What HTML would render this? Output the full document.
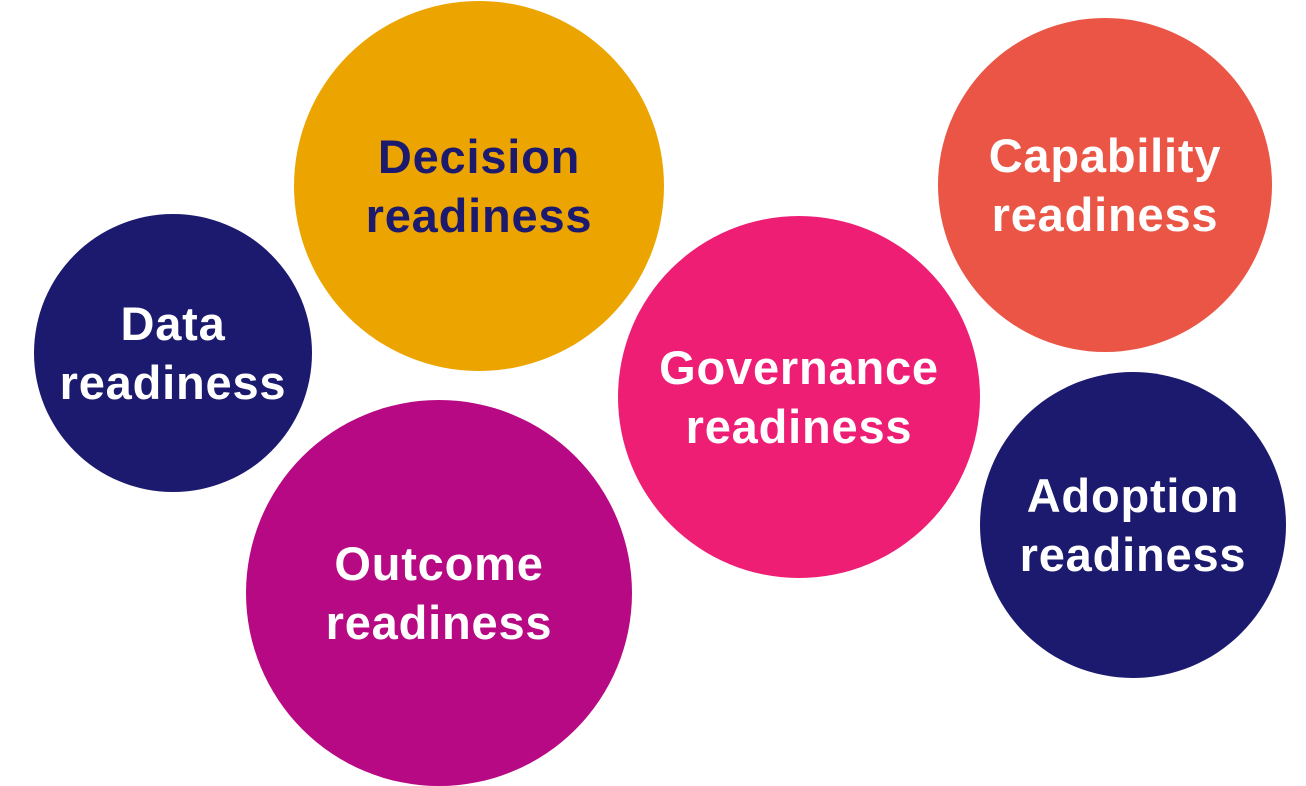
<!DOCTYPE html>
<html><head><meta charset="utf-8"><style>
html,body{margin:0;padding:0;background:#fff;}
svg{display:block;}
text{font-family:"Liberation Sans",sans-serif;font-weight:bold;font-size:47px;letter-spacing:0.8px;text-anchor:middle;}
</style></head><body>
<svg width="1306" height="786" viewBox="0 0 1306 786">
<circle cx="479" cy="186" r="185" fill="#eca400"/>
<circle cx="173" cy="353" r="139" fill="#1b1a6e"/>
<circle cx="439" cy="593" r="193" fill="#b70983"/>
<circle cx="799" cy="397" r="181" fill="#ed1e74"/>
<circle cx="1105" cy="185" r="167" fill="#ea5545"/>
<circle cx="1133" cy="525" r="153" fill="#1b1a6e"/>
<text x="479" y="173" fill="#1b1a6e">Decision</text>
<text x="479" y="232" fill="#1b1a6e">readiness</text>
<text x="173" y="340" fill="#fff">Data</text>
<text x="173" y="399" fill="#fff">readiness</text>
<text x="439" y="580" fill="#fff">Outcome</text>
<text x="439" y="639" fill="#fff">readiness</text>
<text x="799" y="384" fill="#fff">Governance</text>
<text x="799" y="443" fill="#fff">readiness</text>
<text x="1105" y="172" fill="#fff">Capability</text>
<text x="1105" y="231" fill="#fff">readiness</text>
<text x="1133" y="512" fill="#fff">Adoption</text>
<text x="1133" y="571" fill="#fff">readiness</text>
</svg>
</body></html>
